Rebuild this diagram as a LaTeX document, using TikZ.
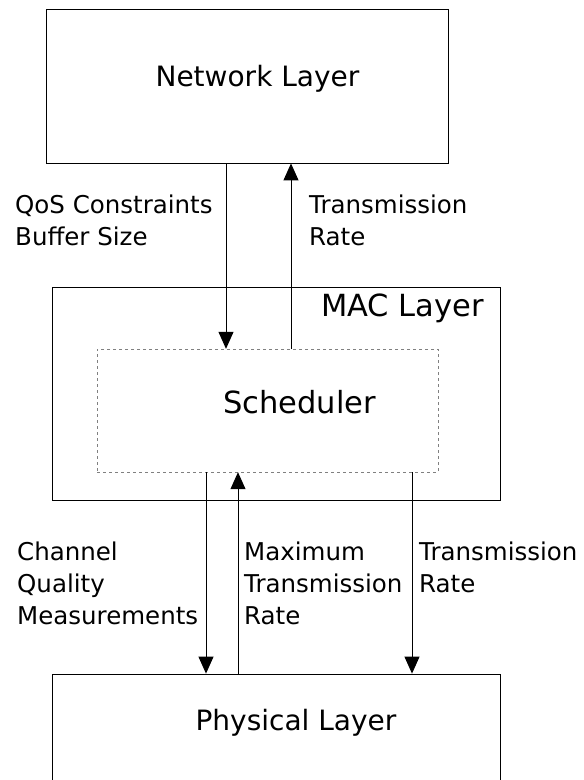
\documentclass[tikz,border=0pt]{standalone}
\usepackage{fontspec}
\setmainfont{DejaVu Sans}
\usetikzlibrary{arrows.meta}

\tikzset{
	layer/.style= {draw, thick, rectangle, inner sep= 0pt},
	title/.style= {font= \fontsize{28}{32}\selectfont},
	note/.style= {anchor= north west, align= left, inner sep= 0pt, font= \fontsize{24.5}{32}\selectfont},
	arr/.style= {line width= 1pt, -{Triangle[length= 17pt, width= 15pt]}}
}

\begin{document}
\begin{tikzpicture}[x= 1pt, y= -1pt]
	\useasboundingbox (0, 0) rectangle (584, 780);
	\clip (0, 0) rectangle (584, 780);

	\node[layer, minimum width= 402pt, minimum height= 154pt] (net) at (247, 86) {};%上段
	\node[title] (nettxt) at (257.5, 79) {Network Layer};
	\draw[thick] (52, 287) rectangle (500, 500);%MAC層
	\node[title, font= \fontsize{30.5}{32}\selectfont] (mac) at (402.5, 308) {MAC Layer};
	\node[draw, dashed, gray, inner sep= 0pt, minimum width= 341pt, minimum height= 123pt] (sched) at (267.5, 410.5) {};%スケジューラ
	\node[title, font= \fontsize{30.5}{32}\selectfont] (schedtxt) at (299.5, 402) {Scheduler};
	\node[layer, minimum width= 448pt, minimum height= 160pt] (phy) at (276, 754) {};%下段（はみ出し）
	\node[title] (phytxt) at (296, 723) {Physical Layer};

	\coordinate (qos) at (226, 0);
	\coordinate (up) at (291, 0);
	\coordinate (chq) at (206, 0);
	\coordinate (mx) at (238, 0);
	\coordinate (tr) at (412, 0);

	\draw[arr] (net.south -| qos)-- (sched.north -| qos); %網層→スケジューラ
	\draw[arr] (sched.north -| up)-- (net.south -| up); %スケジューラ→網層
	\draw[arr] (sched.south -| chq)-- (phy.north -| chq); %チャネル品質
	\draw[arr] (phy.north -| mx)-- (sched.south -| mx); %最大伝送レート
	\draw[arr] (sched.south -| tr)-- (phy.north -| tr); %伝送レート

	\node[note] (qosl) at (15, 195) {QoS Constraints\\Buffer Size};
	\node[note] (upl) at (309, 195) {Transmission\\Rate};
	\node[note] (chql) at (17, 542) {Channel\\Quality\\Measurements};
	\node[note] (mxl) at (244, 542) {Maximum\\Transmission\\Rate};
	\node[note] (trl) at (419, 542) {Transmission\\Rate};
\end{tikzpicture}
\end{document}
